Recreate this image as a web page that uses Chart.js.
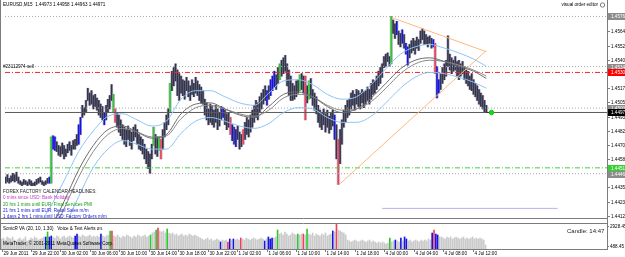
<!DOCTYPE html>
<html>
<head>
<meta charset="utf-8">
<script src="https://cdn.jsdelivr.net/npm/chart.js@4.4.1/dist/chart.umd.min.js"></script>
<style>
body { margin: 0; background: #fff; }
#wrap { position: relative; width: 625px; height: 257px; overflow: hidden; background: #fff; }
#main { position: absolute; left: 0; top: 0; }
#vol { position: absolute; left: 0; top: 223px; }
</style>
</head>
<body>
<div id="wrap">
  <canvas id="main" width="625" height="223"></canvas>
  <canvas id="vol" width="625" height="34"></canvas>
</div>
<script>
// EURUSD M15, bar 0 = 29 Jun 18:00, bar 263 = 4 Jul 13:45
const highs = [
  1.4444,1.4446,1.4443,1.4445,1.4447,1.4446,1.4448,1.4444,1.4441,1.4440,
  1.4442,1.4441,1.4440,1.4442,1.4441,1.4439,1.4440,1.4442,1.4443,1.4444,
  1.4441,1.4440,1.4441,1.4443,1.4444,1.4477,1.4478,1.4477,1.4473,1.4470,
  1.4469,1.4472,1.4470,1.4467,1.4471,1.4473,1.4470,1.4474,1.4475,1.4479,
  1.4487,1.4493,1.4503,1.4501,1.4507,1.4517,1.4513,1.4515,1.4511,1.4512,
  1.4509,1.4507,1.4504,1.4502,1.4497,1.4503,1.4508,1.4511,1.4520,1.4512,
  1.4500,1.4497,1.4495,1.4491,1.4487,1.4485,1.4483,1.4486,1.4483,1.4481,
  1.4485,1.4487,1.4483,1.4479,1.4477,1.4475,1.4471,1.4467,1.4465,1.4463,
  1.4471,1.4485,1.4479,1.4477,1.4477,1.4475,1.4483,1.4489,1.4495,1.4500,
  1.4521,1.4531,1.4534,1.4537,1.4532,1.4529,1.4527,1.4524,1.4523,1.4526,
  1.4523,1.4519,1.4524,1.4521,1.4526,1.4523,1.4520,1.4518,1.4515,1.4508,
  1.4505,1.4500,1.4504,1.4502,1.4499,1.4503,1.4500,1.4497,1.4502,1.4501,
  1.4499,1.4496,1.4497,1.4493,1.4487,1.4485,1.4483,1.4486,1.4481,1.4479,
  1.4483,1.4489,1.4493,1.4491,1.4495,1.4499,1.4503,1.4507,1.4505,1.4510,
  1.4513,1.4516,1.4519,1.4515,1.4519,1.4524,1.4527,1.4531,1.4528,1.4534,
  1.4537,1.4540,1.4542,1.4544,1.4537,1.4532,1.4527,1.4521,1.4519,1.4523,
  1.4524,1.4528,1.4529,1.4527,1.4527,1.4519,1.4523,1.4525,1.4516,1.4513,
  1.4510,1.4503,1.4499,1.4497,1.4500,1.4496,1.4499,1.4494,1.4497,1.4499,
  1.4495,1.4487,1.4475,1.4483,1.4491,1.4499,1.4503,1.4507,1.4508,1.4513,
  1.4515,1.4512,1.4516,1.4515,1.4513,1.4516,1.4514,1.4515,1.4518,1.4516,
  1.4521,1.4524,1.4523,1.4527,1.4531,1.4534,1.4537,1.4543,1.4545,1.4546,
  1.4543,1.4576,1.4573,1.4570,1.4572,1.4564,1.4562,1.4565,1.4561,1.4554,
  1.4551,1.4553,1.4556,1.4558,1.4556,1.4559,1.4557,1.4564,1.4566,1.4564,
  1.4561,1.4559,1.4560,1.4558,1.4557,1.4554,1.4535,1.4524,1.4529,1.4534,
  1.4537,1.4540,1.4560,1.4545,1.4542,1.4540,1.4543,1.4539,1.4540,1.4537,
  1.4539,1.4535,1.4532,1.4531,1.4527,1.4529,1.4524,1.4521,1.4519,1.4516,
  1.4513,1.4511,1.4507,1.4503
]
const lows = [
  1.4439,1.4440,1.4439,1.4440,1.4441,1.4440,1.4441,1.4439,1.4438,1.4437,
  1.4438,1.4438,1.4437,1.4438,1.4437,1.4437,1.4437,1.4438,1.4439,1.4440,
  1.4438,1.4437,1.4438,1.4439,1.4439,1.4439,1.4467,1.4466,1.4465,1.4462,
  1.4461,1.4463,1.4459,1.4461,1.4464,1.4466,1.4462,1.4467,1.4467,1.4470,
  1.4471,1.4479,1.4493,1.4495,1.4497,1.4507,1.4503,1.4504,1.4500,1.4502,
  1.4499,1.4495,1.4493,1.4491,1.4487,1.4491,1.4497,1.4500,1.4507,1.4497,
  1.4489,1.4485,1.4481,1.4478,1.4475,1.4471,1.4469,1.4475,1.4470,1.4467,
  1.4474,1.4477,1.4471,1.4467,1.4466,1.4463,1.4459,1.4455,1.4451,1.4447,
  1.4459,1.4470,1.4463,1.4461,1.4466,1.4459,1.4467,1.4477,1.4483,1.4487,
  1.4497,1.4515,1.4519,1.4523,1.4511,1.4507,1.4513,1.4511,1.4508,1.4515,
  1.4510,1.4507,1.4512,1.4510,1.4513,1.4511,1.4507,1.4505,1.4504,1.4495,
  1.4491,1.4487,1.4489,1.4487,1.4485,1.4489,1.4483,1.4486,1.4491,1.4493,
  1.4487,1.4483,1.4485,1.4479,1.4474,1.4471,1.4469,1.4475,1.4467,1.4469,
  1.4471,1.4475,1.4479,1.4477,1.4481,1.4485,1.4489,1.4493,1.4491,1.4497,
  1.4500,1.4504,1.4507,1.4503,1.4508,1.4511,1.4515,1.4518,1.4516,1.4521,
  1.4524,1.4527,1.4529,1.4531,1.4519,1.4511,1.4507,1.4507,1.4508,1.4510,
  1.4513,1.4515,1.4516,1.4513,1.4491,1.4505,1.4508,1.4509,1.4503,1.4499,
  1.4496,1.4489,1.4485,1.4483,1.4487,1.4481,1.4485,1.4480,1.4483,1.4486,
  1.4475,1.4459,1.4438,1.4455,1.4471,1.4485,1.4489,1.4493,1.4495,1.4500,
  1.4503,1.4499,1.4504,1.4502,1.4500,1.4505,1.4501,1.4504,1.4507,1.4504,
  1.4508,1.4512,1.4513,1.4516,1.4519,1.4521,1.4526,1.4534,1.4535,1.4539,
  1.4535,1.4537,1.4562,1.4558,1.4561,1.4553,1.4551,1.4554,1.4550,1.4545,
  1.4536,1.4542,1.4546,1.4548,1.4545,1.4550,1.4548,1.4554,1.4557,1.4553,
  1.4553,1.4551,1.4554,1.4550,1.4551,1.4529,1.4509,1.4513,1.4516,1.4521,
  1.4524,1.4527,1.4535,1.4532,1.4529,1.4531,1.4532,1.4527,1.4524,1.4527,
  1.4529,1.4524,1.4521,1.4519,1.4516,1.4515,1.4512,1.4510,1.4507,1.4504,
  1.4502,1.4500,1.4497,1.4497
]
const volumes = [
  1340,1460,1220,1590,1460,1340,1590,1220,1100,1340,
  1460,1220,1340,1590,1100,1220,1460,1340,1590,1460,
  1220,1340,1460,1590,1590,2200,1590,1710,1590,1460,
  1710,1590,1340,1590,1710,1460,1590,1710,1590,1460,
  1710,1950,1710,1590,1830,1710,1590,1710,1830,1590,
  1710,1590,1710,1590,1950,1710,1590,1710,1830,2320,
  2320,1710,1590,1830,1590,1460,1710,1590,1830,1710,
  1590,1460,1710,1590,1830,1710,1590,1710,1830,1590,
  1710,1830,2070,2200,2440,2680,2320,2200,2320,2070,
  2560,2070,1950,2070,1830,1950,1710,1830,1950,1710,
  1830,1710,1950,1830,1710,1830,1710,1590,1460,1340,
  1220,1340,1460,1220,1340,1100,1220,1340,1220,980,
  1220,1100,1220,980,1340,1220,1340,1220,1340,1220,
  1460,1340,1220,1460,1340,1220,1340,1460,1340,1220,
  1340,1460,1340,1100,1340,1590,1340,1460,1460,1590,
  2440,1950,2070,1830,2200,1950,1710,1830,2070,1950,
  1830,1950,1830,1950,1950,1830,2560,1950,1830,2070,
  1710,1950,1830,1710,1950,1830,2070,1710,1830,1950,
  2320,2200,3170,2440,2320,2200,2070,1830,1220,1100,
  980,1100,1220,1100,980,1100,1220,1100,980,1100,
  1220,980,1100,980,850,980,850,980,850,730,
  850,1460,980,1100,1220,1100,980,1460,1100,1590,
  1340,1100,1220,980,1100,1220,1100,980,1220,1100,
  1220,1100,1340,1220,2070,2440,1950,1830,1590,1590,
  1460,1340,1590,1460,1590,1340,1460,1590,1460,1340,
  1460,1590,1340,1460,1340,1460,1590,1340,1460,1340,
  1460,1340,1220,610
]
// bars painted by the colour-bar indicator (price and volume)
const blueBars = [24,26,27,40,41,54,119,124,126,143,145,146,147,180,214,217,219,220,234,236,237]
const greenBars = [25,59,81,84,90,150,161,166,211]
const redBars = [60,85,123,130,164,182,235]

// moving averages and bands, read every 8 bars
const maIdx = [8,24,32,40,48,56,64,72,80,88,96,104,112,120,128,136,144,152,160,168,176,184,192,200,208,216,224,232,240,248,256,263]
const maFast = [1.4368,1.4400,1.4424,1.4450,1.4470,1.4483,1.4486,1.4481,1.4476,1.4479,1.4496,1.4504,1.4505,1.4500,1.4495,1.4493,1.4502,1.4512,1.4514,1.4510,1.4502,1.4497,1.4500,1.4509,1.4521,1.4533,1.4540,1.4542,1.4539,1.4535,1.4531,1.4525]
const maSlow = [1.4362,1.4394,1.4418,1.4444,1.4465,1.4479,1.4484,1.4481,1.4477,1.4478,1.4492,1.4501,1.4503,1.4500,1.4496,1.4494,1.4499,1.4509,1.4512,1.4510,1.4503,1.4499,1.4500,1.4506,1.4517,1.4529,1.4537,1.4540,1.4539,1.4536,1.4532,1.4527]
const bandUp = [1.4385,1.4418,1.4441,1.4465,1.4482,1.4494,1.4496,1.4491,1.4486,1.4490,1.4508,1.4515,1.4515,1.4510,1.4505,1.4503,1.4513,1.4523,1.4524,1.4520,1.4512,1.4508,1.4510,1.4520,1.4533,1.4545,1.4551,1.4553,1.4550,1.4546,1.4541,1.4535]
const bandDn = [1.4345,1.4378,1.4402,1.4428,1.4452,1.4467,1.4474,1.4471,1.4467,1.4467,1.4480,1.4490,1.4493,1.4490,1.4486,1.4484,1.4488,1.4497,1.4501,1.4500,1.4493,1.4489,1.4489,1.4494,1.4505,1.4517,1.4526,1.4530,1.4529,1.4526,1.4522,1.4517]

const priceTicks = [1.45640,1.45520,1.45405,1.45290,1.45170,1.45055,1.44935,1.44820,1.44700,1.44585,1.44470,1.44355,1.44235,1.44120]
const levelPrices = [1.45760,1.45348,1.45300,1.45007,1.44971,1.44516,1.44468]
const levelKinds = ['dot','dot','order','dot','bid','alert','dot']
const trendA = [[182.6,1.4438],[263,1.4548]]
const trendB = [[211.4,1.4575],[263,1.4547]]
const lavender = [[206,1.44183],[302,1.44183]]
const bidPrice = 1.44971
const markerIdx = 265.8

const timeIdx = [0,16,32,48,64,80,96,112,128,144,160,176,192,208,224,240,256]
const timeLabels = ['29 Jun 2011','29 Jun 22:00','30 Jun 02:00','30 Jun 06:00','30 Jun 10:00','30 Jun 14:00','30 Jun 18:00','30 Jun 22:00','1 Jul 02:00','1 Jul 06:00','1 Jul 10:00','1 Jul 14:00','1 Jul 18:00','4 Jul 00:00','4 Jul 04:00','4 Jul 08:00','4 Jul 12:00']
const volTicks = [2928.45, 488.45]

const headlines = [
  ['FOREX FACTORY CALENDAR HEADLINES:', '#1a1a1a'],
  ['0 mins since USD: Bank Holiday', '#c040c8'],
  ['20 hrs 1 mins until EUR: Final Services PMI', '#18a018'],
  ['21 hrs 1 mins until EUR: Retail Sales m/m', '#2020d8'],
  ['1 days 2 hrs 1 mins until USD: Factory Orders m/m', '#2020d8']
]

const X_MIN = -0.3, X_MAX = 329
const BLUE = '#1414e0', GREEN = '#30c830', RED = '#f0405a'
const FONT = '"Liberation Sans", Arial, sans-serif'

function barColor(i, base) {
    if (blueBars.includes(i)) return BLUE
    if (greenBars.includes(i)) return GREEN
    if (redBars.includes(i)) return RED
    return base
}

const levelStyle = {
    dot: {line: '#a8a8a8', dash: [1, 2], box: '#8c8c8c'},
    order: {line: '#ff2020', dash: [5, 2, 1, 2], box: '#ff0000'},
    bid: {line: '#5a5a5a', dash: [], box: '#000000'},
    alert: {line: '#40d040', dash: [5, 2, 1, 2], box: '#30d030'}
}

function lineSet(points, color, extra) {
    return Object.assign({
        type: 'line',
        data: points,
        borderColor: color,
        borderWidth: 1,
        pointRadius: 0,
        fill: false,
        order: 1
    }, extra || {})
}

const barPoints = highs.map((h, i) => ({x: i, y: [lows[i], h]}))
let mainSets = []
// pale shadow behind each bar, as in the terminal
mainSets.push({
    type: 'bar',
    data: barPoints,
    backgroundColor: '#b8b8c6',
    barThickness: 2.4,
    grouped: false,
    order: 6
})
mainSets.push({
    type: 'bar',
    data: barPoints,
    backgroundColor: highs.map((h, i) => barColor(i, '#34344c')),
    barThickness: 1,
    grouped: false,
    order: 5
})
mainSets.push(lineSet(maIdx.map((x, k) => ({x: x, y: bandUp[k]})), '#8cc4f4', {tension: 0.4, cubicInterpolationMode: 'monotone'}))
mainSets.push(lineSet(maIdx.map((x, k) => ({x: x, y: bandDn[k]})), '#8cc4f4', {tension: 0.4, cubicInterpolationMode: 'monotone'}))
mainSets.push(lineSet(maIdx.map((x, k) => ({x: x, y: maFast[k]})), '#6c6c6c', {tension: 0.4, cubicInterpolationMode: 'monotone'}))
mainSets.push(lineSet(maIdx.map((x, k) => ({x: x, y: maSlow[k]})), '#8a8a8a', {tension: 0.4, cubicInterpolationMode: 'monotone'}))
levelPrices.forEach((p, k) => {
    const st = levelStyle[levelKinds[k]]
    mainSets.push(lineSet([{x: X_MIN, y: p}, {x: X_MAX, y: p}], st.line, {borderDash: st.dash, order: 3}))
})
mainSets.push(lineSet(trendA.map(d => ({x: d[0], y: d[1]})), '#ffb87c'))
mainSets.push(lineSet(trendB.map(d => ({x: d[0], y: d[1]})), '#ffb87c'))
mainSets.push(lineSet(lavender.map(d => ({x: d[0], y: d[1]})), '#b4b4ee'))
mainSets.push(lineSet([{x: highs.length - 1, y: bidPrice}, {x: markerIdx, y: bidPrice}], '#303030'))
mainSets.push({
    type: 'scatter',
    data: [{x: markerIdx, y: bidPrice}],
    pointRadius: 2.2,
    backgroundColor: '#10e010',
    borderColor: '#10c010',
    order: 0
})

const mainDecor = {
    id: 'mainDecor',
    afterDraw(chart) {
        const ctx = chart.ctx, ys = chart.scales.y, a = chart.chartArea
        ctx.save()
        ctx.strokeStyle = '#7c7c7c'
        ctx.lineWidth = 1
        ctx.beginPath()
        ctx.moveTo(0.5, 0); ctx.lineTo(0.5, 223)
        ctx.moveTo(a.right + 0.5, 0); ctx.lineTo(a.right + 0.5, 223)
        ctx.moveTo(0, a.bottom + 0.5); ctx.lineTo(a.right, a.bottom + 0.5)
        ctx.stroke()

        ctx.font = '4.6px ' + FONT
        ctx.textBaseline = 'middle'
        ctx.fillStyle = '#000'
        priceTicks.forEach(t => {
            const py = Math.round(ys.getPixelForValue(t)) + 0.5
            ctx.beginPath(); ctx.moveTo(a.right, py); ctx.lineTo(a.right + 3, py); ctx.stroke()
            ctx.fillText(t.toFixed(5), a.right + 4, py)
        })
        levelPrices.forEach((p, k) => {
            const st = levelStyle[levelKinds[k]]
            const py = Math.round(ys.getPixelForValue(p))
            ctx.fillStyle = st.box
            ctx.fillRect(a.right + 1, py - 3, 625 - a.right, 7)
            ctx.fillStyle = '#fff'
            ctx.fillText(p.toFixed(5), a.right + 4, py + 0.5)
        })

        ctx.fillStyle = '#000'
        ctx.fillText('EURUSD,M15  1.44973 1.44958 1.44963 1.44971', 3, 5)
        ctx.fillText('#23112974 sell', 3, Math.round(ys.getPixelForValue(levelPrices[2])) - 5)
        ctx.textAlign = 'right'
        ctx.fillText('visual order editor', 598, 5)
        ctx.textAlign = 'left'
        ctx.beginPath()
        ctx.arc(602.5, 5, 2.2, 0, Math.PI * 2)
        ctx.stroke()

        headlines.forEach((h, k) => {
            ctx.fillStyle = h[1]
            ctx.fillText(h[0], 3, 192 + k * 6.2)
        })
        ctx.restore()
    }
}

new Chart(document.getElementById('main'), {
    type: 'bar',
    data: {datasets: mainSets},
    options: {
        responsive: false,
        animation: false,
        devicePixelRatio: 1,
        layout: {padding: {left: 1, right: 18, top: 1, bottom: 1}},
        plugins: {legend: {display: false}, tooltip: {enabled: false}},
        scales: {
            x: {type: 'linear', offset: false, min: X_MIN, max: X_MAX, display: false},
            y: {min: 1.44104, max: 1.45854, display: false}
        }
    },
    plugins: [mainDecor]
})

const volDecor = {
    id: 'volDecor',
    afterDraw(chart) {
        const ctx = chart.ctx, xs = chart.scales.x, ys = chart.scales.y, a = chart.chartArea
        ctx.save()
        ctx.strokeStyle = '#7c7c7c'
        ctx.lineWidth = 1
        ctx.beginPath()
        ctx.moveTo(0.5, 0); ctx.lineTo(0.5, a.bottom + 1)
        ctx.moveTo(a.right + 0.5, 0); ctx.lineTo(a.right + 0.5, a.bottom + 1)
        ctx.moveTo(0, 0.5); ctx.lineTo(a.right, 0.5)
        ctx.moveTo(0, a.bottom + 0.5); ctx.lineTo(a.right + 1, a.bottom + 0.5)
        ctx.stroke()

        ctx.font = '4.6px ' + FONT
        ctx.textBaseline = 'middle'
        ctx.fillStyle = '#000'
        volTicks.forEach(v => {
            const py = Math.round(ys.getPixelForValue(v)) + 0.5
            ctx.beginPath(); ctx.moveTo(a.right, py); ctx.lineTo(a.right + 2, py); ctx.stroke()
            ctx.fillText(v.toFixed(2), a.right + 3, py)
        })
        timeIdx.forEach((t, k) => {
            const px = Math.round(xs.getPixelForValue(t)) + 0.5
            ctx.beginPath(); ctx.moveTo(px, a.bottom); ctx.lineTo(px, a.bottom + 3); ctx.stroke()
            ctx.fillText(timeLabels[k], px + 1, a.bottom + 4.5)
        })
        ctx.fillText('SonicR VA (20, 10, 1.30)   Voice & Text Alerts on.', 3, 6)
        ctx.fillText('MetaTrader, \u00a9 2001-2011 MetaQuotes Software Corp.', 3, 21)
        ctx.font = '6px ' + FONT
        ctx.fillStyle = '#222'
        ctx.fillText('Candle: 14:47', 567, 8)
        ctx.restore()
    }
}

new Chart(document.getElementById('vol'), {
    type: 'bar',
    data: {
        datasets: [{
            data: volumes.map((v, i) => ({x: i, y: v})),
            backgroundColor: volumes.map((v, i) => barColor(i, '#cacaca')),
            barThickness: 1,
            grouped: false
        }]
    },
    options: {
        responsive: false,
        animation: false,
        devicePixelRatio: 1,
        layout: {padding: {left: 1, right: 18, top: 1, bottom: 8}},
        plugins: {legend: {display: false}, tooltip: {enabled: false}},
        scales: {
            x: {type: 'linear', offset: false, min: X_MIN, max: X_MAX, display: false},
            y: {min: 122, max: 3172, display: false}
        }
    },
    plugins: [volDecor]
})
</script>
</body>
</html>
